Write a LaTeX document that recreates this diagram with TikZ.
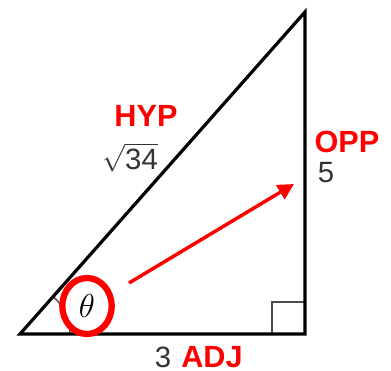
\documentclass[tikz,border=0pt]{standalone}
\usepackage{fontspec}
\setmainfont{Liberation Sans}
\usetikzlibrary{shapes.geometric,arrows.meta}

\begin{document}
\begin{tikzpicture}[x=0.75pt,y=-0.75pt,
    side/.style ={line width=2.4pt, black},
    anglemark/.style ={line width=1pt, black!70},
    sidename/.style ={text=red, font=\fontsize{23}{26}\selectfont\bfseries, inner sep=0pt, anchor=base},
    sidelength/.style ={text=black!80, font=\fontsize{22}{25}\selectfont, inner sep=0pt, anchor=base},
    circled/.style ={ellipse, draw=red, line width=4.7pt, minimum width=37pt, minimum height=42pt, inner sep=0pt}]
   \useasboundingbox (0,0) rectangle (391,370);

   \coordinate (A) at (20,334);
   \coordinate (B) at (305,334);
   \coordinate (C) at (305,12);
   \coordinate (S) at (129,283);
   \coordinate (T) at (294,184);

   % right angle and angle mark
   \draw[anglemark] (272,334) -- (272,302) -- (305,302);
   \draw[anglemark] (70,334) arc (0:-48.6:50);

   \draw[side] (A) -- (B) -- (C) -- cycle;

   \node[circled] (theta) at (87,306) {\fontsize{26}{28}\selectfont$\theta$};

   \node[sidename] (hyp) at (146,127) {HYP};
   \node[sidelength] (hypval) at (130,169) {$\sqrt{\mbox{34}}$};
   \node[sidename] (opp) at (347,152) {OPP};
   \node[sidelength] (oppval) at (326,182) {5};
   \node[sidelength] (adjval) at (163,367) {3};
   \node[sidename] (adj) at (212,367) {ADJ};

   \draw[red, line width=2.6pt, -{Triangle[length=12pt,width=12pt]}] (S) -- (T);
 \end{tikzpicture}
\end{document}
